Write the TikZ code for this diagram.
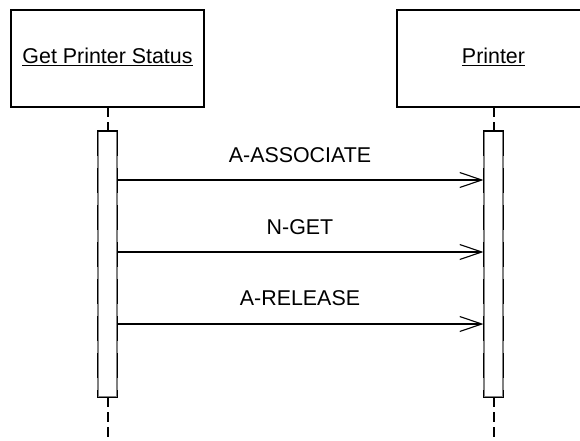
\documentclass[tikz,border=0pt]{standalone}
\usepackage{fontspec}
\setmainfont{Liberation Sans}
\usetikzlibrary{arrows.meta}
\begin{document}
\begin{tikzpicture}[x=1pt,y=-1pt,
  objbox/.style={draw,line width=1.6pt,rectangle},
  lifeline/.style={line width=2pt,dash pattern=on 10pt off 5pt},
  actbar/.style={draw=black!50,line width=1.1pt,fill=white},
  barside/.style={black,line width=1.3pt,dash pattern=on 25pt off 12pt},
  msg/.style={line width=1.1pt,-{Straight Barb[length=22pt,width=15pt,line width=1.1pt]}},
  lbl/.style={font=\fontsize{21.4}{25}\selectfont,anchor=base,inner sep=0pt},
]
\useasboundingbox (0,0) rectangle (580,441);
% object boxes
\draw[objbox] (11,10) rectangle (204,107);
\draw[objbox] (397,10) rectangle (590,107);
\node[lbl] (gps) at (107.5,64) {\underline{Get Printer Status}};
\node[lbl] (prn) at (493.5,64) {\underline{Printer}};
% lifelines
\coordinate (l1top) at (107.5,107);
\coordinate (l1bar) at (107.5,131);
\coordinate (l1bot) at (107.5,397);
\coordinate (l1end) at (107.5,441);
\coordinate (l2top) at (493.5,107);
\coordinate (l2bar) at (493.5,131);
\coordinate (l2bot) at (493.5,397);
\coordinate (l2end) at (493.5,441);
\draw[lifeline] (l1top) -- (l1bar);
\draw[lifeline] (l1bot) -- (l1end);
\draw[lifeline] (l2top) -- (l2bar);
\draw[lifeline] (l2bot) -- (l2end);
% activation bars
\node[actbar,minimum width=19pt,minimum height=265pt,inner sep=0pt,anchor=north] (a1) at (107.5,131) {};
\node[actbar,minimum width=19pt,minimum height=265pt,inner sep=0pt,anchor=north] (a2) at (493.5,131) {};
\draw[barside] (a1.north west) -- (a1.south west);
\draw[barside] (a1.north east) -- (a1.south east);
\draw[barside] (a2.north west) -- (a2.south west);
\draw[barside] (a2.north east) -- (a2.south east);
\draw[black,line width=1.1pt] (a1.north west) -- (a1.north east) (a1.south west) -- (a1.south east);
\draw[black,line width=1.1pt] (a2.north west) -- (a2.north east) (a2.south west) -- (a2.south east);
% messages
\coordinate (m1s) at (a1.east |- 0,180);
\coordinate (m1e) at (a2.west |- 0,180);
\coordinate (m2s) at (a1.east |- 0,252);
\coordinate (m2e) at (a2.west |- 0,252);
\coordinate (m3s) at (a1.east |- 0,324);
\coordinate (m3e) at (a2.west |- 0,324);
\draw[msg] (m1s) -- (m1e);
\draw[msg] (m2s) -- (m2e);
\draw[msg] (m3s) -- (m3e);
\node[lbl] (t1) at (300,162) {A-ASSOCIATE};
\node[lbl] (t2) at (300,234) {N-GET};
\node[lbl] (t3) at (300,305) {A-RELEASE};
\end{tikzpicture}
\end{document}
